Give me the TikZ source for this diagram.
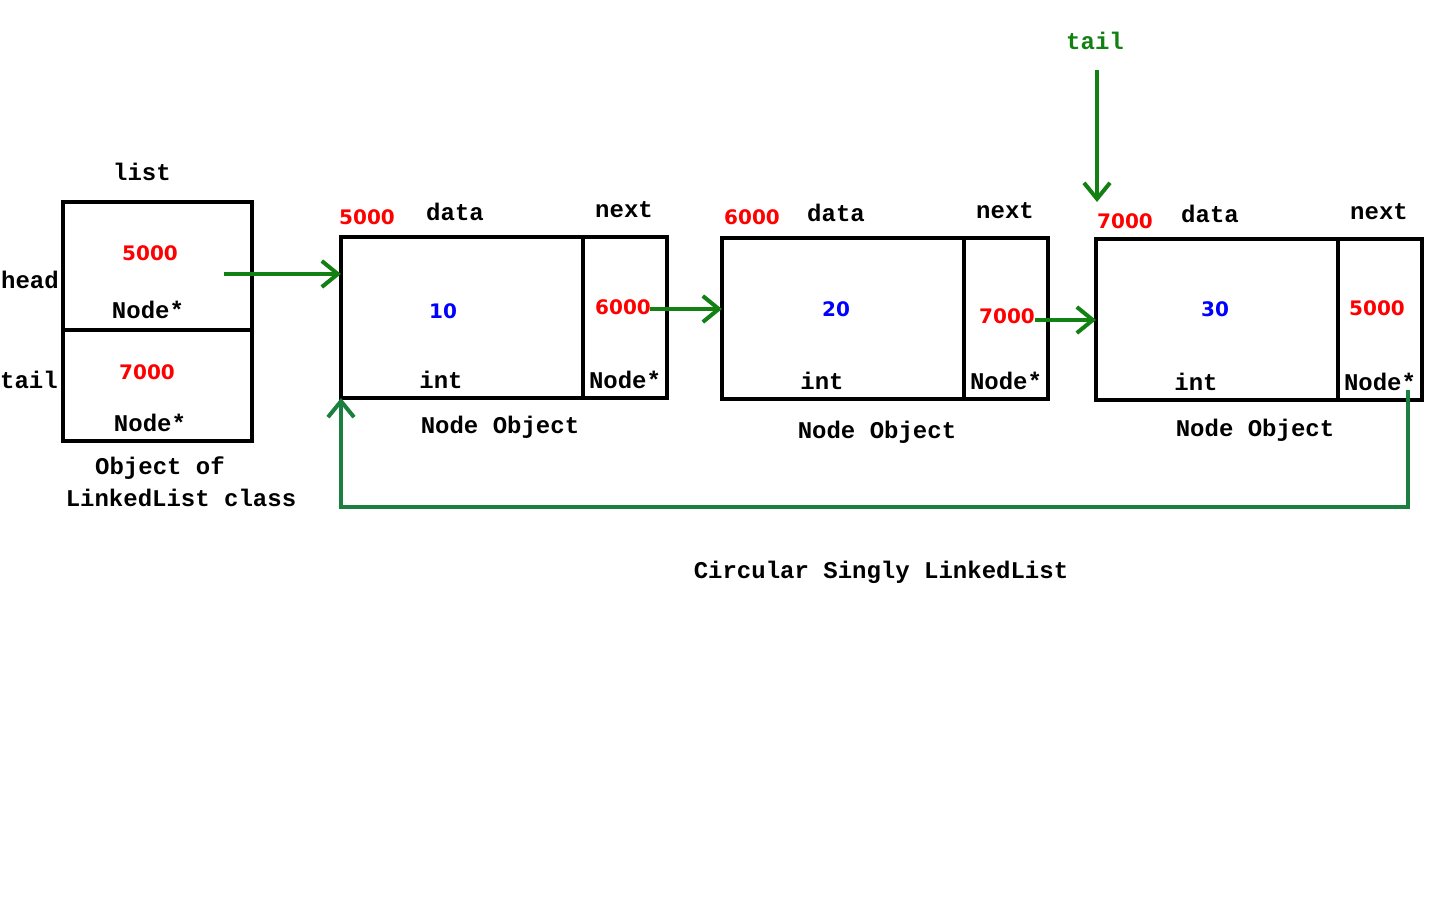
\documentclass[tikz,border=0pt]{standalone}
\usepackage{fontspec}
\setmainfont{Liberation Mono}
\newfontfamily\numfont{DejaVu Sans}
\usetikzlibrary{arrows.meta}
\definecolor{arrg}{HTML}{138013}
\definecolor{retg}{HTML}{1A7F3F}
\definecolor{numred}{HTML}{FF0000}
\definecolor{numblue}{HTML}{0000FF}
\begin{document}
\begin{tikzpicture}[x=1pt,y=-1pt,
  box/.style={draw=black, line width=3.5pt, inner sep=0pt, outer sep=0pt},
  lbl/.style={inner sep=0pt, font=\fontsize{24}{27}\selectfont\bfseries},
  red/.style={inner sep=0pt, text=numred, font=\fontsize{20}{24}\selectfont\numfont\bfseries},
  blue/.style={inner sep=0pt, text=numblue, font=\fontsize{20}{24}\selectfont\numfont\bfseries},
  garrow/.style={draw=arrg, line width=3.5pt, -{Straight Barb[length=16pt,width=26pt,line width=4pt]}},
  rarrow/.style={draw=retg, line width=3.5pt, -{Straight Barb[length=16pt,width=26pt,line width=4pt]}}
]
\useasboundingbox (0,0) rectangle (1440,900);
% list object
\node[box, minimum width=189pt, minimum height=128pt] (lh) at (157.5,266) {};
\node[box, minimum width=189pt, minimum height=111pt] (lt) at (157.5,385.5) {};
\node[lbl] (listlbl) at (142,172) {list};
\node[lbl] (headlbl) at (30,280) {head};
\node[lbl] (taillbl) at (29,380) {tail};
\node[red] (lh5) at (150,253) {5000};
\node[lbl] (lhn) at (148,310) {Node*};
\node[red] (lt7) at (147,372) {7000};
\node[lbl] (ltn) at (150,423) {Node*};
\node[lbl] (obj1) at (160,468) {Object of};
\node[lbl] (obj2) at (181,498) {LinkedList class};
% node 1
\node[box, minimum width=242pt, minimum height=161pt] (n1d) at (462,317.5) {};
\node[box, minimum width=84pt, minimum height=161pt] (n1n) at (625,317.5) {};
\node[red] (a1) at (367,217) {5000};
\node[lbl] (d1) at (455,212) {data};
\node[lbl] (x1) at (624,210) {next};
\node[blue] (v1) at (443,311) {10};
\node[red] (p1) at (623,307) {6000};
\node[lbl] (t1) at (441,380) {int};
\node[lbl] (q1) at (625,380) {Node*};
\node[lbl] (o1) at (500,427) {Node Object};
% node 2
\node[box, minimum width=242pt, minimum height=161pt] (n2d) at (843,318.5) {};
\node[box, minimum width=84pt, minimum height=161pt] (n2n) at (1006,318.5) {};
\node[red] (a2) at (752,217) {6000};
\node[lbl] (d2) at (836,213) {data};
\node[lbl] (x2) at (1005,211) {next};
\node[blue] (v2) at (836,309) {20};
\node[red] (p2) at (1007,316) {7000};
\node[lbl] (t2) at (822,381) {int};
\node[lbl] (q2) at (1006,381) {Node*};
\node[lbl] (o2) at (877,432) {Node Object};
% node 3
\node[box, minimum width=242pt, minimum height=161pt] (n3d) at (1217,319.5) {};
\node[box, minimum width=84pt, minimum height=161pt] (n3n) at (1380,319.5) {};
\node[red] (a3) at (1125,221) {7000};
\node[lbl] (d3) at (1210,214) {data};
\node[lbl] (x3) at (1379,212) {next};
\node[blue] (v3) at (1215,309) {30};
\node[red] (p3) at (1377,308) {5000};
\node[lbl] (t3) at (1196,382) {int};
\node[lbl] (q3) at (1380,382) {Node*};
\node[lbl] (o3) at (1255,430) {Node Object};
% tail pointer
\node[lbl, text=arrg] (tailtop) at (1095,41) {tail};
\coordinate (tailstart) at (1097,70);
\coordinate (tailend) at (1097,202);
\draw[garrow] (tailstart) -- (tailend);
% arrows
\coordinate (hs) at (224,274);
\draw[garrow] (hs) -- (hs -| n1d.west);
\coordinate (s1) at (650,309);
\draw[garrow] (s1) -- (s1 -| n2d.west);
\coordinate (s2) at (1035,320);
\draw[garrow] (s2) -- (s2 -| n3d.west);
\coordinate (rs) at (1408,390);
\coordinate (rb) at (1408,507);
\draw[rarrow] (rs) -- (rb) -| (n1d.south west);
\node[lbl] (title) at (881,572) {Circular Singly LinkedList};
\end{tikzpicture}
\end{document}
